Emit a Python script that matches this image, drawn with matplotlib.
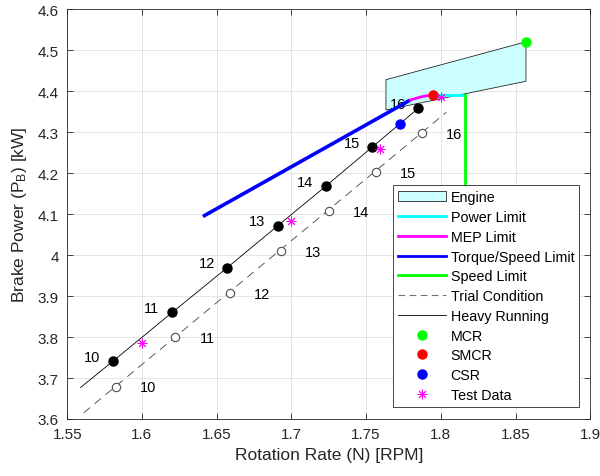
import matplotlib
matplotlib.use('Agg')
import matplotlib.pyplot as plt
from matplotlib.patches import Polygon, Patch
from matplotlib.lines import Line2D
from matplotlib.ticker import FormatStrFormatter, MultipleLocator

plt.rcParams['font.family'] = ['Liberation Sans', 'DejaVu Sans']
plt.rcParams['mathtext.fontset'] = 'custom'
plt.rcParams['mathtext.rm'] = 'Liberation Sans'
plt.rcParams['mathtext.it'] = 'Liberation Sans'

CYAN = '#00ffff'
MAGENTA = '#ff00ff'
GREEN = '#00ff00'
ASTER = (8, 2, 0)

# load points labelled by speed setting
labels = [10, 11, 12, 13, 14, 15, 16]
heavy_n = [1.5806, 1.6203, 1.657, 1.6908, 1.7229, 1.754, 1.785]
heavy_p = [3.741, 3.860, 3.969, 4.071, 4.1675, 4.263, 4.358]
trial_n = [1.5826, 1.6223, 1.659, 1.693, 1.7254, 1.7566, 1.7874]
trial_p = [3.679, 3.799, 3.907, 4.010, 4.107, 4.202, 4.2976]

# curve extents
heavy_line_n = [1.559] + heavy_n
heavy_line_p = [3.677] + heavy_p
trial_line_n = [1.561, 1.8037]
trial_line_p = [3.615, 4.348]

# engine envelope
engine_n = [1.7633, 1.857, 1.857, 1.7633]
engine_p = [4.4276, 4.520, 4.4237, 4.3537]

torque_n = [1.6408, 1.7796]
torque_p = [4.094, 4.378]
mep_n = [1.7796, 1.787, 1.795]
mep_p = [4.378, 4.386, 4.391]
power_n = [1.795, 1.816]
power_p = [4.391, 4.391]
speed_n = [1.816, 1.816]
speed_p = [4.391, 3.95]

mcr = (1.857, 4.520)
smcr = (1.795, 4.391)
csr = (1.7727, 4.3195)
test_n = [1.600, 1.700, 1.759, 1.800]
test_p = [3.785, 4.083, 4.259, 4.386]

fig = plt.figure(figsize=(6, 4.77), dpi=100)
ax = fig.add_axes([0.112, 0.1195, 0.8717, 0.8595])

ax.add_patch(Polygon(list(zip(engine_n, engine_p)), closed=True,
                     facecolor=(0.8, 1, 1), edgecolor=(0.15, 0.15, 0.15), lw=0.6, zorder=2))

ax.plot(trial_line_n, trial_line_p, color='0.25', lw=0.6, dashes=(10, 7), zorder=3)
ax.plot(heavy_line_n, heavy_line_p, color='k', lw=0.6, zorder=3)
ax.plot(trial_n, trial_p, 'o', ms=6, mfc='white', mec='0.3', mew=0.8, zorder=4)
ax.plot(heavy_n, heavy_p, 'o', ms=6.5, color='k', zorder=4)

ax.plot(torque_n, torque_p, color='b', lw=2.6, zorder=5, solid_capstyle='butt')
ax.plot(mep_n, mep_p, color=MAGENTA, lw=2, zorder=5)
ax.plot(power_n, power_p, color=CYAN, lw=2, zorder=5)
ax.plot(speed_n, speed_p, color=GREEN, lw=2, zorder=5)

ax.plot(*mcr, 'o', ms=6.5, color=GREEN, zorder=6)
ax.plot(*smcr, 'o', ms=6.5, color='r', zorder=6)
ax.plot(*csr, 'o', ms=6.5, color='b', zorder=6)
ax.plot(test_n, test_p, ls='none', marker=ASTER, ms=7, color=MAGENTA, mew=0.7, zorder=6)

for lab, x, y in zip(labels, heavy_n, heavy_p):
    ax.annotate(str(lab), xy=(x, y), xytext=(-14.7, 3.3), textcoords='offset points',
                ha='center', va='center', fontsize=10.5, color='k')
for lab, x, y in zip(labels, trial_n, trial_p):
    ax.annotate(str(lab), xy=(x, y), xytext=(23, -0.5), textcoords='offset points',
                ha='center', va='center', fontsize=10.5, color='k')

ax.set_xlim(1.55, 1.9)
ax.set_ylim(3.6, 4.6)
ax.xaxis.set_major_locator(MultipleLocator(0.05))
ax.yaxis.set_major_locator(MultipleLocator(0.1))
ax.xaxis.set_major_formatter(FormatStrFormatter('%g'))
ax.yaxis.set_major_formatter(FormatStrFormatter('%g'))
ax.tick_params(direction='in', length=4, width=0.6, labelsize=11, colors='0.15',
               top=True, right=True, pad=6)
for s in ax.spines.values():
    s.set_color('0.15')
    s.set_linewidth(0.6)
ax.grid(True, color='0.88', lw=0.6)
ax.set_axisbelow(True)

ax.set_xlabel('Rotation Rate (N) [RPM]', fontsize=12.5, color='0.15', labelpad=4)
ax.set_ylabel('Brake Power (P$_\\mathrm{B}$) [kW]', fontsize=12.5, color='0.15', labelpad=6)

handles = [
    Patch(facecolor=(0.8, 1, 1), edgecolor='0.15', lw=0.6),
    Line2D([], [], color=CYAN, lw=2),
    Line2D([], [], color=MAGENTA, lw=2),
    Line2D([], [], color='b', lw=2),
    Line2D([], [], color=GREEN, lw=2),
    Line2D([], [], color='0.45', lw=0.8, dashes=(6, 4)),
    Line2D([], [], color='k', lw=0.6),
    Line2D([], [], ls='none', marker='o', ms=6.5, color=GREEN),
    Line2D([], [], ls='none', marker='o', ms=6.5, color='r'),
    Line2D([], [], ls='none', marker='o', ms=6.5, color='b'),
    Line2D([], [], ls='none', marker=ASTER, ms=7, color=MAGENTA, mew=0.7),
]
names = ['Engine', 'Power Limit', 'MEP Limit', 'Torque/Speed Limit', 'Speed Limit',
         'Trial Condition', 'Heavy Running', 'MCR', 'SMCR', 'CSR', 'Test Data']
leg = ax.legend(handles, names, loc='lower right', bbox_to_anchor=(0.979, 0.030),
                borderaxespad=0, fontsize=10.3, fancybox=False, framealpha=1,
                edgecolor='0.15', handlelength=3.3, handletextpad=0.35,
                labelspacing=0.4, borderpad=0.35)
leg.get_frame().set_linewidth(0.6)
leg.set_zorder(10)

fig.savefig('out.png', dpi=100)
